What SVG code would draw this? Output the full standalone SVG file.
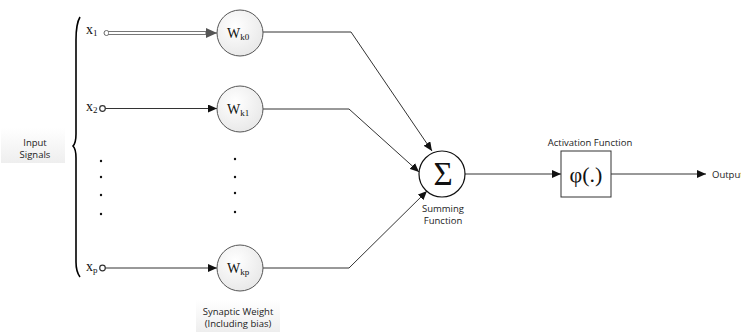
<svg xmlns="http://www.w3.org/2000/svg" width="741" height="332" viewBox="0 0 741 332">
<defs>
<style>
.sans{font-family:"Open Sans","Liberation Sans",sans-serif;font-size:9.5px;fill:#222}
.serif{font-family:"Liberation Serif","DejaVu Serif",serif;fill:#111}
.wc{fill:url(#wg);stroke:#555;stroke-width:1}
.ln{fill:none;stroke:#333;stroke-width:1}
.dot{fill:#111}
</style>
<radialGradient id="wg" cx="0.4" cy="0.35" r="0.75">
<stop offset="0" stop-color="#ffffff"/>
<stop offset="1" stop-color="#e6e6e6"/>
</radialGradient>
<linearGradient id="bg" x1="0" y1="0" x2="0" y2="1">
<stop offset="0" stop-color="#ffffff"/>
<stop offset="1" stop-color="#eeeeee"/>
</linearGradient>
<marker id="ah" markerWidth="10" markerHeight="8" refX="9" refY="4" orient="auto" markerUnits="userSpaceOnUse">
<path d="M0,0 L9,4 L0,8 Z" fill="#111"/>
</marker>
<marker id="ahg" markerWidth="12" markerHeight="10" refX="11" refY="5" orient="auto" markerUnits="userSpaceOnUse">
<path d="M0,0 L11,5 L0,10 Z" fill="#555"/>
</marker>
</defs>
<rect width="741" height="332" fill="#fff"/>

<g id="input-signals">
<rect x="1" y="128" width="64" height="35" fill="url(#bg)"/>
<text class="sans" x="35" y="146" text-anchor="middle">Input</text>
<text class="sans" x="35" y="158" text-anchor="middle">Signals</text>
</g>

<g id="brace">
<path d="M80,17 C77,22 76,30 76,40 L76,134 C76,141 75,144 73,146 C75,148 76,151 76,158 L76,262 C76,270 77,273 80,277" fill="none" stroke="#000" stroke-width="1.6"/>
</g>

<g id="x1">
<text class="serif" x="86" y="34" font-size="14">x<tspan font-size="9" dy="2">1</tspan></text>
<circle cx="106.5" cy="33" r="2.5" fill="#fff" stroke="#666" stroke-width="1"/>
</g>
<g id="x2">
<text class="serif" x="86" y="111" font-size="14">x<tspan font-size="9" dy="2">2</tspan></text>
<circle cx="102.5" cy="108.5" r="2.8" fill="#fff" stroke="#333" stroke-width="1.2"/>
</g>
<g id="xp">
<text class="serif" x="86" y="271" font-size="14">x<tspan font-size="9" dy="2">p</tspan></text>
<circle cx="102.5" cy="268" r="2.8" fill="#fff" stroke="#333" stroke-width="1.2"/>
</g>

<g id="dots-inputs">
<circle class="dot" cx="101" cy="161" r="1.2"/>
<circle class="dot" cx="101" cy="177" r="1.2"/>
<circle class="dot" cx="101" cy="195" r="1.2"/>
<circle class="dot" cx="101" cy="214" r="1.2"/>
</g>
<g id="dots-weights">
<circle class="dot" cx="235" cy="159" r="1.2"/>
<circle class="dot" cx="235" cy="177" r="1.2"/>
<circle class="dot" cx="235" cy="193" r="1.2"/>
<circle class="dot" cx="235" cy="212" r="1.2"/>
</g>

<g id="connectors">
<path d="M109,33 L207,33" stroke="#777" stroke-width="4" fill="none"/>
<path d="M109,33 L207,33" stroke="#fff" stroke-width="2" fill="none"/>
<path d="M205,33 L217,33" stroke="#555" stroke-width="1" fill="none" marker-end="url(#ahg)"/>
<path class="ln" d="M105.3,108.5 L217,108.5" marker-end="url(#ah)"/>
<path class="ln" d="M105.3,268 L217,268" marker-end="url(#ah)"/>
<path class="ln" d="M263,32 L351,32 L432,151" marker-end="url(#ah)"/>
<path class="ln" d="M263,109 L349,109 L419,172" marker-end="url(#ah)"/>
<path class="ln" d="M263,268 L349,268 L427,191" marker-end="url(#ah)"/>
<path class="ln" d="M465,174 L561,174" marker-end="url(#ah)"/>
<path class="ln" d="M611,174 L706,174" marker-end="url(#ah)"/>
</g>

<g id="wk0">
<circle class="wc" cx="240" cy="33" r="23"/>
<text class="serif" x="227" y="38" font-size="14">W<tspan font-size="9" dy="2">k0</tspan></text>
</g>
<g id="wk1">
<circle class="wc" cx="240" cy="109" r="23"/>
<text class="serif" x="227" y="114" font-size="14">W<tspan font-size="9" dy="2">k1</tspan></text>
</g>
<g id="wkp">
<circle class="wc" cx="240" cy="268" r="23"/>
<text class="serif" x="227" y="273" font-size="14">W<tspan font-size="9" dy="2">kp</tspan></text>
</g>

<g id="synaptic-label">
<rect x="196" y="300" width="84" height="32" fill="url(#bg)"/>
<text class="sans" x="238" y="315" text-anchor="middle" font-size="9">Synaptic Weight</text>
<text class="sans" x="238" y="327" text-anchor="middle" font-size="9">(Including bias)</text>
</g>

<g id="summing">
<circle cx="442" cy="174" r="23" fill="#fff" stroke="#111" stroke-width="1.2"/>
<text class="serif" x="443" y="185" font-size="33" text-anchor="middle">Σ</text>
<text class="sans" x="443" y="212" text-anchor="middle">Summing</text>
<text class="sans" x="443" y="224" text-anchor="middle">Function</text>
</g>

<g id="activation">
<text class="sans" x="590" y="146" text-anchor="middle">Activation Function</text>
<rect x="561" y="151" width="50" height="46" fill="#fff" stroke="#333" stroke-width="1"/>
<text class="serif" x="586" y="182" font-size="22" text-anchor="middle">φ(.)</text>
</g>

<g id="output">
<text class="sans" x="712" y="178">Output</text>
</g>
</svg>
